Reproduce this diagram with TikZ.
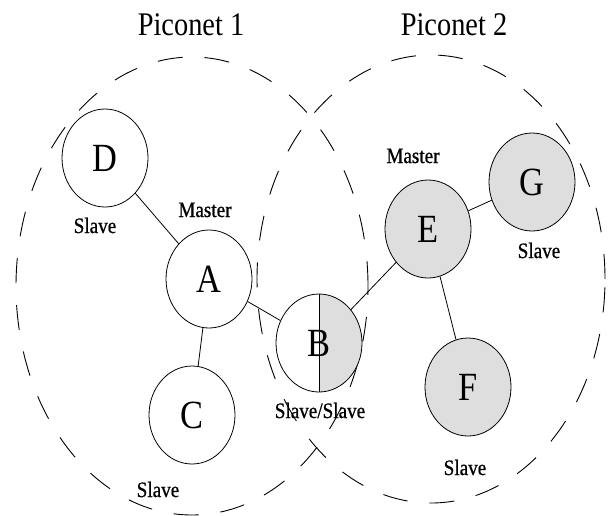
\documentclass[tikz,border=0pt]{standalone}
\usepackage{fontspec}
\setmainfont{Liberation Serif}
\newfontfamily\narrowfont[FakeStretch=0.86]{Liberation Serif}
\newfontfamily\rolefont[FakeStretch=0.87, FakeBold=0.7]{Liberation Serif}
\usepackage{tikz}
\definecolor{slavegrey}{RGB}{222,222,222}
\usetikzlibrary{shapes.geometric}
\tikzset{%
  piconet/.style={draw, ellipse, inner sep=0pt, dash pattern=on 25pt off 22pt, line width=0.9pt},% piconet border
  device/.style={draw, ellipse, inner sep=0pt, minimum width=86pt, minimum height=98pt,
    line width=0.8pt, font=\narrowfont\fontsize{40}{44}\selectfont},
  pico1dev/.style={device, fill=white},% device of piconet 1
  pico2dev/.style={device, fill=slavegrey},% device of piconet 2
  bridge/.style={device, fill=white, path picture={
    \fill[slavegrey] (path picture bounding box.north) rectangle (path picture bounding box.south east);
    \draw[line width=0.8pt] (path picture bounding box.north) -- (path picture bounding box.south);}},
  role/.style={anchor=base, inner sep=0pt, font=\rolefont\fontsize{22}{24}\selectfont},% master / slave text
  title/.style={anchor=base, inner sep=0pt, font=\narrowfont\fontsize{33}{36}\selectfont}
}

\begin{document}
\begin{tikzpicture}[x=1pt, y=-1pt]
\path[use as bounding box, fill=white] (0,0) rectangle (610,515);

\node[piconet, minimum width=352pt, minimum height=458pt] (p1) at (192, 286) {};
\node[piconet, minimum width=348pt, minimum height=448pt] (p2) at (431, 279) {};

\node[title] (t1) at (191, 35) {Piconet 1};
\node[title] (t2) at (454, 35) {Piconet 2};

\node[pico1dev] (D) at (105, 158) {D};
\node[pico1dev] (A) at (209, 279) {A};
\node[pico1dev] (C) at (192, 415) {C};
\node[bridge] (B) at (319, 343) {B};
\node[pico2dev] (E) at (428, 229) {E};
\node[pico2dev] (G) at (532, 182) {G};
\node[pico2dev] (F) at (468, 387) {F};

\draw[line width=0.8pt] (D) -- (A);
\draw[line width=0.8pt] (A) -- (C);
\draw[line width=0.8pt] (A) -- (B);
\draw[line width=0.8pt] (B) -- (E);
\draw[line width=0.8pt] (E) -- (G);
\draw[line width=0.8pt] (E) -- (F);

\node[role] (lD) at (95, 233) {Slave};
\node[role] (lA) at (205, 217) {Master};
\node[role] (lC) at (158, 497) {Slave};
\node[role] (lB) at (320, 418) {Slave/Slave};
\node[role] (lE) at (413, 163) {Master};
\node[role] (lG) at (539, 258) {Slave};
\node[role] (lF) at (465, 475) {Slave};

\end{tikzpicture}
\end{document}
